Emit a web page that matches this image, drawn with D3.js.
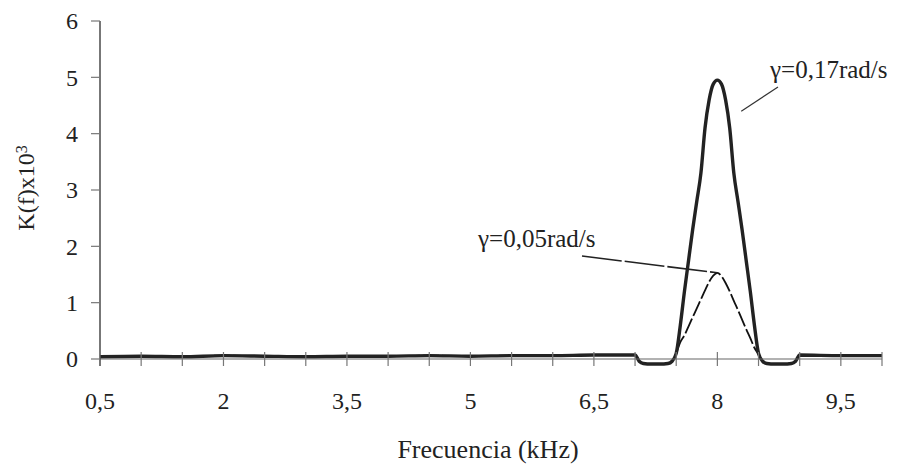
<!DOCTYPE html>
<html>
<head>
<meta charset="utf-8">
<script src="https://cdn.jsdelivr.net/npm/d3@7"></script>
<style>
  body { margin: 0; background: #fff; }
  text { font-family: "Liberation Serif", "Times New Roman", serif; fill: #222; }
</style>
</head>
<body>
<div id="canvas"></div>
<script>
"use strict"

/* Data: frequency in kHz, K(f) x 10^3 */
let freq = [0.5, 1, 1.5, 2, 2.5, 3, 3.5, 4, 4.5, 5, 5.5, 6, 6.5, 7,
    7.05, 7.1, 7.2, 7.3, 7.4, 7.45, 7.5, 7.55, 7.6, 7.65, 7.7, 7.75, 7.8,
    7.85, 7.9, 7.95, 8, 8.05, 8.1, 8.15, 8.2, 8.25, 8.3, 8.35, 8.4, 8.45,
    8.5, 8.55, 8.6, 8.7, 8.8, 8.9, 8.95, 9, 9.5, 10];

/* gamma = 0,17 rad/s (thick) */
let kStrong = [0.04, 0.05, 0.04, 0.06, 0.05, 0.04, 0.05, 0.05, 0.06, 0.05, 0.06, 0.06, 0.07, 0.07,
    -0.04, -0.08, -0.09, -0.09, -0.08, -0.04, 0.1, 0.6, 1.2, 1.75, 2.3, 2.8, 3.3,
    4.1, 4.6, 4.88, 4.95, 4.88, 4.6, 4.1, 3.3, 2.8, 2.3, 1.75, 1.2, 0.6,
    0.1, -0.04, -0.08, -0.09, -0.09, -0.08, -0.04, 0.07, 0.06, 0.06];

/* gamma = 0,05 rad/s (thin) */
let kWeak = [0.04, 0.05, 0.04, 0.06, 0.05, 0.04, 0.05, 0.05, 0.06, 0.05, 0.06, 0.06, 0.07, 0.07,
    -0.04, -0.08, -0.09, -0.09, -0.08, -0.04, 0.1, 0.3, 0.42, 0.58, 0.74, 0.9, 1.06,
    1.22, 1.37, 1.48, 1.53, 1.47, 1.35, 1.2, 1.03, 0.87, 0.7, 0.53, 0.37, 0.2,
    0.08, -0.04, -0.08, -0.09, -0.09, -0.08, -0.04, 0.07, 0.06, 0.06];

let yTicks = [0, 1, 2, 3, 4, 5, 6];
let xTicks = d3.range(0.5, 10.01, 0.5);
let xLabels = [0.5, 2, 3.5, 5, 6.5, 8, 9.5];

/* Drawing configuration */
let svgWidth = 907;
let svgHeight = 468;
let plotLeft = 100, plotRight = 882, plotTop = 21, plotBottom = 359;

let svg = d3.select("#canvas")
    .append("svg")
    .attr("width", svgWidth)
    .attr("height", svgHeight);

let x = d3.scaleLinear().domain([0.5, 10]).range([plotLeft, plotRight]);
let y = d3.scaleLinear().domain([0, 6]).range([plotBottom, plotTop]);

let comma = d => String(d).replace(".", ",");

/* series */
let line = series => d3.line()
    .x((d, i) => x(freq[i]))
    .y(d => y(d))
    .curve(d3.curveMonotoneX)(series);

svg.append("path")
    .attr("d", line(kWeak))
    .attr("fill", "none")
    .attr("stroke", "#111")
    .attr("stroke-width", 1.8)
    .attr("stroke-dasharray", "16,3");

svg.append("path")
    .attr("d", line(kStrong))
    .attr("fill", "none")
    .attr("stroke", "#222")
    .attr("stroke-width", 3.4)
    .attr("stroke-linejoin", "round");

/* x axis: line, cross ticks, labels */
svg.append("line")
    .attr("x1", plotLeft).attr("x2", plotRight)
    .attr("y1", y(0)).attr("y2", y(0))
    .attr("stroke", "#666").attr("stroke-width", 1.2);

svg.selectAll(".xtick")
    .data(xTicks.slice(1))
    .join("line")
    .attr("class", "xtick")
    .attr("x1", d => x(d)).attr("x2", d => x(d))
    .attr("y1", y(0) - 7).attr("y2", y(0) + 7)
    .attr("stroke", "#777").attr("stroke-width", 1.2);

svg.selectAll(".xlabel")
    .data(xLabels)
    .join("text")
    .attr("class", "xlabel")
    .attr("x", d => x(d))
    .attr("y", 409)
    .attr("text-anchor", "middle")
    .style("font-size", "24px")
    .text(comma);

/* y axis */
svg.append("line")
    .attr("x1", plotLeft).attr("x2", plotLeft)
    .attr("y1", y(6)).attr("y2", y(0) + 7)
    .attr("stroke", "#555").attr("stroke-width", 1.6);

svg.selectAll(".ytick")
    .data(yTicks)
    .join("line")
    .attr("class", "ytick")
    .attr("x1", plotLeft - 9).attr("x2", plotLeft)
    .attr("y1", d => y(d)).attr("y2", d => y(d))
    .attr("stroke", "#777").attr("stroke-width", 1.2);

svg.selectAll(".ylabel")
    .data(yTicks)
    .join("text")
    .attr("class", "ylabel")
    .attr("x", 78)
    .attr("y", d => y(d))
    .attr("dy", "0.35em")
    .attr("text-anchor", "end")
    .style("font-size", "24px")
    .text(d => d);

/* annotations */
svg.append("text")
    .attr("x", 770).attr("y", 78)
    .style("font-size", "25px")
    .text("\u03b3=0,17rad/s");

svg.append("line")
    .attr("x1", 778).attr("y1", 87)
    .attr("x2", x(8.29)).attr("y2", y(4.4))
    .attr("stroke", "#333").attr("stroke-width", 1.2);

svg.append("text")
    .attr("x", 478).attr("y", 247)
    .style("font-size", "25px")
    .text("\u03b3=0,05rad/s");

svg.append("line")
    .attr("x1", 582).attr("y1", 256)
    .attr("x2", x(8)).attr("y2", y(1.53))
    .attr("stroke", "#222").attr("stroke-width", 1.6)
    .attr("stroke-dasharray", "40,3");

/* axis titles */
svg.append("text")
    .attr("x", 488).attr("y", 458)
    .attr("text-anchor", "middle")
    .style("font-size", "26px")
    .text("Frecuencia (kHz)");

let yTitle = svg.append("text")
    .attr("transform", "translate(34,188) rotate(-90)")
    .attr("text-anchor", "middle")
    .style("font-size", "24px");
yTitle.append("tspan").text("K(f)x10");
yTitle.append("tspan")
    .attr("dy", "-0.45em")
    .style("font-size", "16px")
    .text("3");
</script>
</body>
</html>
